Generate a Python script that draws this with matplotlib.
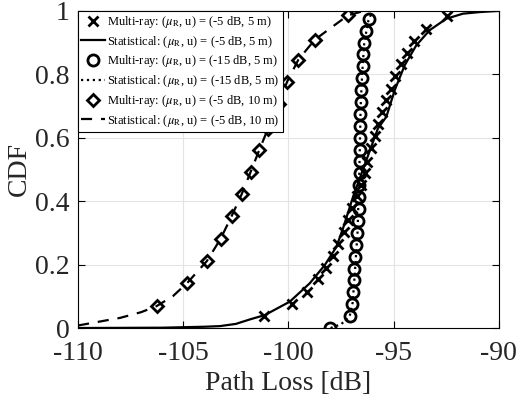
import matplotlib.pyplot as plt
import numpy as np

plt.rcParams['font.family'] = ['Liberation Serif', 'DejaVu Serif']
plt.rcParams['mathtext.fontset'] = 'stix'
plt.rcParams['axes.unicode_minus'] = False

# Multi-ray, (mu_R, u) = (-5 dB, 5 m)
mr1_x = [-101.16, -99.81, -99.12, -98.58, -98.21, -97.90, -97.64, -97.38, -97.17, -96.96,
         -96.75, -96.55, -96.38, -96.27, -96.06, -95.90, -95.75, -95.54, -95.37, -95.14,
         -94.95, -94.64, -94.35, -94.04, -93.48, -92.45]
mr1_y = [0.039, 0.077, 0.114, 0.153, 0.190, 0.227, 0.265, 0.302, 0.340, 0.377,
         0.415, 0.452, 0.489, 0.524, 0.567, 0.605, 0.642, 0.681, 0.718, 0.755,
         0.793, 0.831, 0.868, 0.905, 0.944, 0.983]

# Statistical, (-5 dB, 5 m)
st1_x = [-110, -106, -104, -103.26, -102.5, -101.84, -101.12, -99.94, -98.99, -98.28,
         -97.72, -97.40, -96.93, -96.30, -95.75, -95.35, -94.95, -94.48, -93.93, -93.29,
         -92.50, -91.71, -90.92, -90]
st1_y = [0.0, 0.001, 0.004, 0.006, 0.013, 0.027, 0.041, 0.083, 0.141, 0.198,
         0.256, 0.316, 0.414, 0.529, 0.629, 0.666, 0.750, 0.828, 0.891, 0.939,
         0.975, 0.991, 0.996, 1.0]

# Multi-ray, (-15 dB, 5 m)
mr2_x = [-98.04, -97.06, -96.96, -96.92, -96.88, -96.87, -96.84, -96.79, -96.74, -96.68,
         -96.66, -96.64, -96.63, -96.62, -96.62, -96.61, -96.60, -96.59, -96.58, -96.56,
         -96.55, -96.52, -96.48, -96.45, -96.40, -96.30, -96.17]
mr2_y = [0.0, 0.0375, 0.075, 0.1125, 0.15, 0.1875, 0.225, 0.2625, 0.30, 0.3375,
         0.375, 0.4125, 0.45, 0.4875, 0.525, 0.5625, 0.60, 0.6375, 0.675, 0.7125,
         0.75, 0.7875, 0.825, 0.8625, 0.90, 0.9375, 0.975]

# Statistical, (-15 dB, 5 m)
st2_x = [-98.0, -97.5, -97.1, -96.95, -96.85, -96.72, -96.63, -96.57, -96.5, -96.4,
         -96.2, -96.0, -90]
st2_y = [0.0, 0.012, 0.035, 0.08, 0.17, 0.30, 0.50, 0.70, 0.80, 0.90,
         0.97, 1.0, 1.0]

# Multi-ray, (-5 dB, 10 m)
mr3_x = [-106.27, -104.80, -103.88, -103.23, -102.70, -102.23, -101.80, -101.39, -100.97,
         -100.44, -100.07, -99.53, -98.75, -97.17]
mr3_y = [0.069, 0.143, 0.211, 0.281, 0.353, 0.421, 0.492, 0.561, 0.629,
         0.705, 0.776, 0.846, 0.909, 0.986]

# Statistical, (-5 dB, 10 m)
st3_x = [-110, -109, -108, -107, -106.27, -105.5, -104.8, -103.88, -103.23, -102.7,
         -102.23, -101.8, -101.39, -100.97, -100.44, -100.07, -99.53, -98.75, -97.17,
         -96.5, -96.0, -90]
st3_y = [0.008, 0.02, 0.032, 0.05, 0.069, 0.10, 0.143, 0.211, 0.281, 0.353,
         0.421, 0.492, 0.561, 0.629, 0.705, 0.776, 0.846, 0.909, 0.986,
         0.998, 1.0, 1.0]

lab = r'(-%d dB, %d m)'
mu = r'($\mu_\mathrm{R}$, u) = '

fig = plt.figure(figsize=(5.17, 4.01), dpi=100)
ax = fig.add_axes([0.151, 0.182, 0.814, 0.791])

ax.plot(mr1_x, mr1_y, ls='none', marker='x', ms=6.5, mew=2, color='k',
        label='Multi-ray: ' + mu + lab % (5, 5))
ax.plot(st1_x, st1_y, ls='-', lw=1.6, color='k',
        label='Statistical: ' + mu + lab % (5, 5))
ax.plot(mr2_x, mr2_y, ls='none', marker='o', ms=8, mew=2, mfc='none', color='k',
        label='Multi-ray: ' + mu + lab % (15, 5))
ax.plot(st2_x, st2_y, ls=':', lw=1.6, color='k',
        label='Statistical: ' + mu + lab % (15, 5))
ax.plot(mr3_x, mr3_y, ls='none', marker='D', ms=6.5, mew=2, mfc='none', color='k',
        label='Multi-ray: ' + mu + lab % (5, 10))
ax.plot(st3_x, st3_y, ls='--', lw=1.6, dashes=(5, 4), color='k',
        label='Statistical: ' + mu + lab % (5, 10))

ax.set_xlim(-110, -90)
ax.set_ylim(0, 1)
ax.set_xticks([-110, -105, -100, -95, -90])
ax.set_yticks([0, 0.2, 0.4, 0.6, 0.8, 1])
ax.set_yticklabels(['0', '0.2', '0.4', '0.6', '0.8', '1'])
ax.grid(True, color='#e3e3e3', lw=0.8)
ax.set_axisbelow(True)
ax.tick_params(direction='in', top=True, right=True, labelsize=20,
               labelcolor='#262626', length=5)
ax.tick_params(axis='x', pad=9)
ax.tick_params(axis='y', pad=6)
for s in ax.spines.values():
    s.set_linewidth(0.8)
ax.set_xlabel('Path Loss [dB]', fontsize=20, color='#262626', labelpad=4)
ax.set_ylabel('CDF', fontsize=20, color='#262626', labelpad=2)

leg = ax.legend(loc='upper left', bbox_to_anchor=(0, 1), borderaxespad=0,
                fontsize=9, fancybox=False, edgecolor='k', framealpha=1,
                handlelength=1.9, handletextpad=0.2, labelspacing=0.3,
                borderpad=0.25)
leg.get_frame().set_linewidth(0.8)

fig.savefig('out.png', dpi=100)
